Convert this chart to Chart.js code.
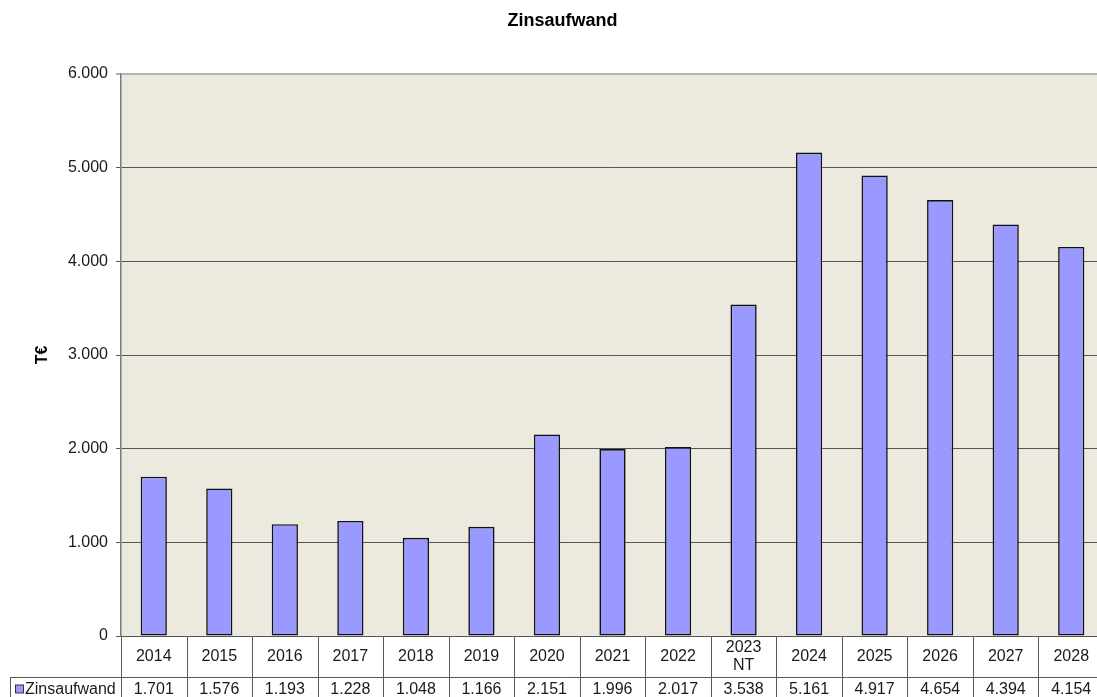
<!DOCTYPE html>
<html><head><meta charset="utf-8">
<script src="https://cdn.jsdelivr.net/npm/chart.js@4/dist/chart.umd.min.js"></script>
<style>html,body{margin:0;padding:0;background:#fff;overflow:hidden}#wrap{width:1097px;height:697px;overflow:hidden;position:relative}canvas{display:block}</style>
</head><body><div id="wrap"><canvas id="c" width="1125" height="697"></canvas></div>
<script>
const chartTitle = 'Zinsaufwand';
const yAxisTitle = 'T€';
const seriesName = 'Zinsaufwand';
const categories = ['2014','2015','2016','2017','2018','2019','2020','2021','2022',['2023','NT'],'2024','2025','2026','2027','2028'];
const values = [1701,1576,1193,1228,1048,1166,2151,1996,2017,3538,5161,4917,4654,4394,4154];
const yTickLabels = ['0','1.000','2.000','3.000','4.000','5.000','6.000'];

const FONT = '"Liberation Sans", Arial, sans-serif';
function fmt(n){ return String(n).replace(/\B(?=(\d{3})+(?!\d))/g,'.'); }

const bgPlugin = {
  id:'bg',
  beforeDraw(chart){
    const {ctx, chartArea:a} = chart;
    ctx.save(); ctx.fillStyle='#ECE9DF';
    ctx.fillRect(a.left,a.top,a.right-a.left,a.bottom-a.top);
    ctx.restore();
  }
};

const tablePlugin = {
  id:'table',
  afterDraw(chart){
    const {ctx, chartArea:a} = chart;
    const x = chart.scales.x;
    const n = categories.length;
    const w = x.getPixelForValue(1) - x.getPixelForValue(0);
    const top = a.bottom, mid = a.bottom + 41, bot = chart.height + 20;
    ctx.save();
    ctx.strokeStyle = '#5a5a5a'; ctx.lineWidth = 1;
    ctx.beginPath();
    for (let i = 0; i <= n; i++) {
      const xx = Math.round(x.getPixelForValue(i) - w/2) + 0.5;
      ctx.moveTo(xx, top); ctx.lineTo(xx, bot);
    }
    ctx.moveTo(10.5, mid + 0.5); ctx.lineTo(chart.width, mid + 0.5);
    ctx.moveTo(10.5, mid); ctx.lineTo(10.5, bot);
    ctx.stroke();
    ctx.fillStyle = '#1a1a1a';
    ctx.font = '16px ' + FONT;
    ctx.textAlign = 'center'; ctx.textBaseline = 'middle';
    const rowC1 = (top + mid) / 2 + 0.5;
    const rowC2 = mid + 12.5;
    for (let i = 0; i < n; i++) {
      const cx = x.getPixelForValue(i);
      const lab = categories[i];
      if (Array.isArray(lab)) {
        ctx.fillText(lab[0], cx, rowC1 - 9);
        ctx.fillText(lab[1], cx, rowC1 + 9);
      } else ctx.fillText(lab, cx, rowC1);
      ctx.fillText(fmt(values[i]), cx, rowC2);
    }
    // legend key
    ctx.fillStyle = '#9999FF';
    ctx.fillRect(15.5, rowC2 - 4.5, 8, 8);
    ctx.strokeStyle = '#333'; ctx.strokeRect(15.5, rowC2 - 4.5, 8, 8);
    ctx.fillStyle = '#1a1a1a'; ctx.textAlign = 'left';
    ctx.fillText(seriesName, 25, rowC2);
    ctx.restore();
  }
};

new Chart(document.getElementById('c'), {
  type: 'bar',
  data: {
    labels: categories,
    datasets: [{
      label: seriesName,
      data: values,
      backgroundColor: '#9999FF',
      borderColor: '#111',
      borderWidth: 1.6,
      borderSkipped: false,
      categoryPercentage: 1,
      barPercentage: 0.4
    }]
  },
  options: {
    responsive: false,
    devicePixelRatio: 1,
    animation: false,
    layout: { padding: { left: 0, right: 0, top: 0, bottom: 61 } },
    plugins: {
      legend: { display: false },
      tooltip: { enabled: false },
      title: {
        display: true, text: chartTitle, color: '#000',
        font: { family: FONT, size: 18, weight: 'bold' },
        padding: { top: 10, bottom: 42.4 }
      }
    },
    scales: {
      x: { display: false },
      y: {
        min: 0, max: 6000,
        ticks: {
          stepSize: 1000, padding: 8, color: '#1a1a1a',
          font: { family: FONT, size: 16 },
          callback: (v, i) => yTickLabels[i]
        },
        grid: {
          color: c => (c.tick && c.tick.value === 6000) ? '#b4b4b4' : '#555',
          lineWidth: c => (c.tick && c.tick.value === 6000) ? 2 : 1,
          tickLength: 5, tickColor: '#555', tickWidth: 1
        },
        border: { color: '#7a7a7a', width: 1.5 },
        title: {
          display: true, text: yAxisTitle, color: '#000',
          font: { family: FONT, size: 16, weight: 'bold' },
          padding: { top: 33.4, bottom: 0 }
        },
        afterFit(s) { s.width = 121; }
      },
      spacer: {
        type: 'linear', position: 'right', display: true,
        ticks: { display: false }, grid: { display: false, drawTicks: false }, border: { display: false },
        afterFit(s) { s.width = 21; }
      }
    }
  },
  plugins: [bgPlugin, tablePlugin]
});
</script></body></html>
